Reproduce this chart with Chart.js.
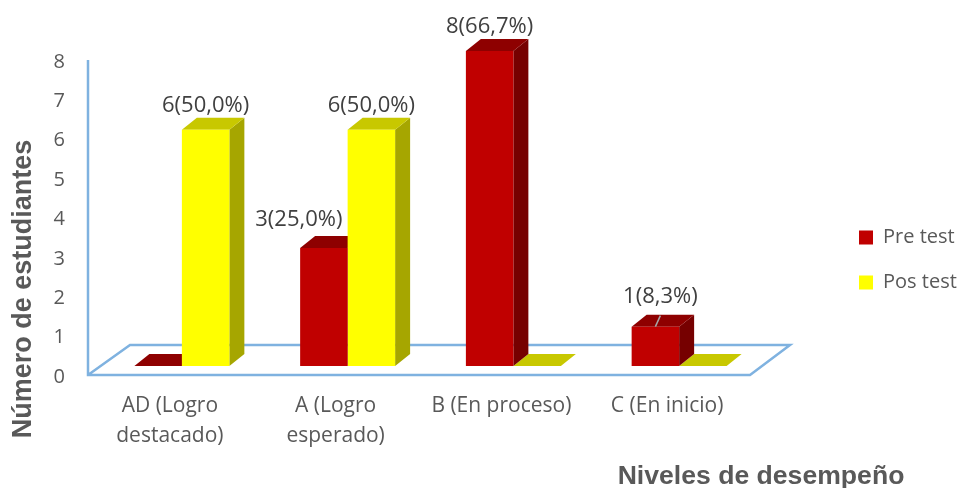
<!DOCTYPE html>
<html>
<head>
<meta charset="utf-8">
<style>
  html, body { margin: 0; padding: 0; background: #fff; }
  #wrap { width: 959px; height: 488px; }
</style>
<script src="https://cdn.jsdelivr.net/npm/chart.js@4/dist/chart.umd.min.js"></script>
</head>
<body>
<div id="wrap"><canvas id="chart"></canvas></div>
<script>
const categories = [['AD (Logro', 'destacado)'], ['A (Logro', 'esperado)'], 'B (En proceso)', 'C (En inicio)'];
const preTest = [0, 3, 8, 1];
const posTest = [6, 6, 0, 0];
const prePct = [null, '25,0', '66,7', '8,3'];
const posPct = ['50,0', '50,0', null, null];
const yTicks = [0, 1, 2, 3, 4, 5, 6, 7, 8];

const DX = 15, DY = 12;
const FONT = '"Open Sans", sans-serif';
const faces = [
  { top: '#8E0000', side: '#760000' },
  { top: '#C8C800', side: '#A6A600' }
];
// ajuste de cada etiqueta respecto a su barra: [serie][categoria]
const labelShift = [
  [null, [-25, -28], [0, -24], [5, -30]],
  [[0, -24], [0, -24], null, null]
];

function poly(ctx, pts, color) {
  ctx.fillStyle = color;
  ctx.beginPath();
  pts.forEach((p, i) => i ? ctx.lineTo(p[0], p[1]) : ctx.moveTo(p[0], p[1]));
  ctx.closePath();
  ctx.fill();
}

const bars3d = {
  id: 'bars3d',
  afterLayout(chart) {
    // mover la leyenda a la derecha, fuera del area del grafico
    const lg = chart.legend;
    const w = lg.width, h = lg.height;
    lg.left = 834; lg.right = 834 + w;
    lg.top = 237 - h / 2 + 23; lg.bottom = lg.top + h;
  },
  beforeDatasetsDraw(chart) {
    const ctx = chart.ctx;
    const a = chart.chartArea;
    // piso y eje vertical
    ctx.save();
    ctx.strokeStyle = '#7FB2E0';
    ctx.lineWidth = 2.5;
    ctx.lineJoin = 'miter';
    ctx.beginPath();
    ctx.moveTo(a.left - 11, a.top + 9);
    ctx.lineTo(a.left - 11, a.bottom + 9);
    ctx.lineTo(a.right - 12, a.bottom + 9);
    ctx.lineTo(a.right + 28, a.bottom - 21);
    ctx.lineTo(a.left + 31, a.bottom - 21);
    ctx.lineTo(a.left - 11, a.bottom + 9);
    ctx.stroke();
    // caras laterales y superiores, primero amarillo
    for (let d = 1; d >= 0; d--) {
      chart.getDatasetMeta(d).data.forEach(bar => {
        const l = bar.x - bar.width / 2, r = bar.x + bar.width / 2;
        const t = bar.y, b = bar.base;
        if (b - t > 0.5) {
          poly(ctx, [[r, t], [r + DX, t - DY], [r + DX, b - DY], [r, b]], faces[d].side);
        }
        poly(ctx, [[l, t], [l + DX, t - DY], [r + DX, t - DY], [r, t]], faces[d].top);
      });
    }
    ctx.restore();
  },
  afterDatasetsDraw(chart) {
    const ctx = chart.ctx;
    ctx.save();
    ctx.font = '22px ' + FONT;
    ctx.fillStyle = '#404040';
    ctx.textAlign = 'center';
    ctx.textBaseline = 'middle';
    [prePct, posPct].forEach((pcts, d) => {
      const vals = d === 0 ? preTest : posTest;
      chart.getDatasetMeta(d).data.forEach((bar, i) => {
        if (pcts[i] === null) return;
        const s = labelShift[d][i];
        ctx.fillText(vals[i] + '(' + pcts[i] + '%)', bar.x + s[0], bar.y + s[1]);
      });
    });
    // linea guia de la ultima etiqueta
    const last = chart.getDatasetMeta(0).data[3];
    ctx.strokeStyle = '#A6A6A6';
    ctx.lineWidth = 1.5;
    ctx.beginPath();
    ctx.moveTo(last.x, last.y);
    ctx.lineTo(last.x + 5, last.y - 11);
    ctx.stroke();

    // titulos de los ejes
    ctx.fillStyle = '#595959';
    ctx.font = 'bold 26.6px "Liberation Sans", Arial, sans-serif';
    ctx.fillText('Niveles de desempeño', 761, 477);
    ctx.font = 'bold 27px "Liberation Sans", Arial, sans-serif';
    ctx.translate(24, 289);
    ctx.rotate(-Math.PI / 2);
    ctx.fillText('Número de estudiantes', 0, 0);
    ctx.restore();
  }
};

new Chart(document.getElementById('chart'), {
  type: 'bar',
  data: {
    labels: categories,
    datasets: [
      { label: 'Pre test', data: preTest, backgroundColor: '#C00000' },
      { label: 'Pos test', data: posTest, backgroundColor: '#FFFF00' }
    ]
  },
  options: {
    responsive: true,
    maintainAspectRatio: false,
    animation: false,
    layout: { padding: { top: 51, right: 197, bottom: 0, left: 0 } },
    datasets: { bar: { barPercentage: 1, categoryPercentage: 0.573 } },
    scales: {
      x: {
        afterFit: s => { s.height = 122; },
        grid: { display: false },
        border: { display: false },
        ticks: { color: '#595959', font: { family: FONT, size: 21, lineHeight: 1.43 }, padding: 17, labelOffset: -12, maxRotation: 0, autoSkip: false }
      },
      y: {
        min: 0,
        max: 8,
        afterFit: s => { s.width = 99; },
        afterBuildTicks: s => { s.ticks = yTicks.map(v => ({ value: v })); },
        grid: { display: false, drawTicks: false },
        border: { display: false },
        ticks: { color: '#595959', font: { family: FONT, size: 20 }, padding: 34, labelOffset: 11 }
      }
    },
    plugins: {
      legend: {
        position: 'chartArea',
        labels: { color: '#595959', font: { family: FONT, size: 20 }, boxWidth: 14, boxHeight: 14, padding: 25 }
      },
      tooltip: { enabled: false }
    }
  },
  plugins: [bars3d]
});
</script>
</body>
</html>
